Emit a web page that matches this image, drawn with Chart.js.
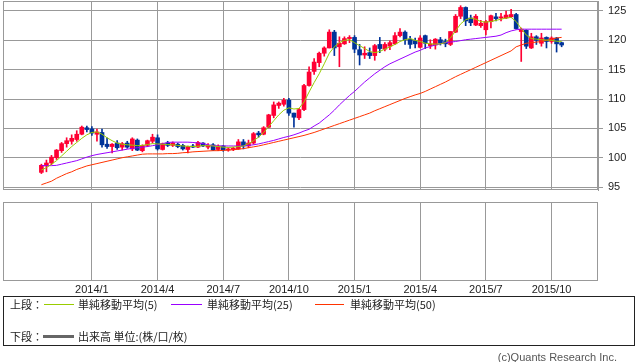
<!DOCTYPE html>
<html lang="ja">
<head>
<meta charset="utf-8">
<title>週足チャート</title>
<script src="https://cdn.jsdelivr.net/npm/chart.js@4.4.0/dist/chart.umd.min.js"></script>
<style>
    body { margin: 0; width: 638px; height: 362px; background: #fff; position: relative; overflow: hidden; }
    #upperChart { position: absolute; left: 0; top: 0; }
    #lowerChart { position: absolute; left: 0; top: 198px; }
    #legend {
        position: absolute; left: 3px; top: 296px; width: 630px; height: 48px;
        border: 1px solid #222; font-family: "Noto Sans CJK JP", sans-serif; font-size: 11px; color: #222;
    }
    #legend span { position: absolute; line-height: 14px; white-space: nowrap; }
    #legend .swatch { position: absolute; height: 1px; }
    #copyright {
        position: absolute; right: 21px; top: 350px; font-family: "Liberation Sans", Arial, sans-serif;
        font-size: 11px; color: #555; line-height: 14px;
    }
</style>
</head>
<body>
<canvas id="upperChart" width="638" height="192"></canvas>
<canvas id="lowerChart" width="638" height="104"></canvas>
<div id="legend">
    <span style="left:6px;top:0px;">上段：</span>
    <div class="swatch" style="left:40px;top:7px;width:30px;background:#99cc00;"></div>
    <span style="left:74px;top:0px;">単純移動平均(5)</span>
    <div class="swatch" style="left:167px;top:7px;width:31px;background:#9900ff;"></div>
    <span style="left:203px;top:0px;">単純移動平均(25)</span>
    <div class="swatch" style="left:311px;top:7px;width:29px;background:#ff3300;"></div>
    <span style="left:346px;top:0px;">単純移動平均(50)</span>
    <span style="left:6px;top:32px;">下段：</span>
    <div class="swatch" style="left:39px;top:38px;width:31px;height:3px;background:#666;"></div>
    <span style="left:74px;top:32px;">出来高 単位:(株/口/枚)</span>
</div>
<div id="copyright">(c)Quants Research Inc.</div>

<script>
// Weekly candles, first week = 2013/10/28
const opens = [97.5, 98.6, 99.1, 100.0, 101.2, 102.4, 102.8, 103.1, 104.0, 105.1,
    104.9, 104.0, 104.3, 102.3, 101.9, 102.5, 101.8, 102.5, 101.5, 103.0,
    101.2, 102.1, 102.8, 103.4, 101.4, 102.5, 102.1, 102.3, 102.1, 101.4,
    102.0, 101.8, 102.5, 101.8, 102.2, 101.4, 102.0, 101.3, 101.4, 101.5,
    102.7, 102.0, 102.5, 104.2, 104.0, 105.2, 107.2, 108.9, 109.1, 109.8,
    107.6, 106.8, 108.2, 112.3, 114.7, 116.2, 117.8, 118.7, 121.4, 118.9,
    119.4, 120.3, 120.5, 118.4, 117.5, 117.9, 117.4, 119.3, 118.5, 119.0,
    119.4, 120.8, 121.4, 120.2, 119.9, 118.8, 120.8, 119.1, 119.2, 120.1,
    119.8, 119.3, 121.4, 124.1, 125.6, 123.8, 122.6, 122.5, 121.8, 123.2,
    124.0, 123.8, 123.8, 124.0, 124.4, 121.5, 121.7, 118.7, 120.6, 119.5,
    120.5, 119.8, 120.4, 119.6];
const highs = [98.9, 99.6, 100.4, 101.4, 102.6, 103.4, 103.9, 104.6, 105.4, 105.4,
    105.3, 104.9, 104.9, 103.4, 102.4, 102.9, 102.6, 102.8, 103.4, 103.2,
    102.2, 103.0, 104.0, 103.9, 102.5, 102.8, 102.7, 102.5, 102.3, 102.0,
    102.3, 102.8, 102.6, 102.4, 102.4, 102.2, 102.1, 101.7, 101.8, 103.1,
    103.1, 103.0, 104.3, 104.5, 105.3, 107.4, 109.5, 109.5, 110.1, 110.1,
    107.6, 108.4, 112.5, 115.5, 116.9, 118.0, 118.9, 121.8, 121.7, 120.6,
    120.6, 120.8, 120.8, 119.3, 118.9, 118.7, 119.3, 120.5, 119.6, 119.9,
    121.3, 122.0, 121.6, 120.7, 120.4, 120.8, 120.9, 120.1, 120.3, 120.5,
    120.2, 121.5, 124.4, 125.9, 125.7, 124.3, 124.4, 123.4, 123.4, 124.3,
    124.6, 124.6, 125.0, 125.3, 124.6, 122.1, 121.8, 121.2, 120.8, 121.2,
    120.6, 120.6, 120.5, 119.7];
const lows = [97.3, 97.6, 98.8, 99.7, 100.9, 101.8, 102.3, 102.8, 103.9, 104.4,
    103.8, 102.8, 101.8, 101.6, 100.8, 101.4, 101.3, 101.6, 101.2, 101.2,
    101.0, 101.9, 102.5, 101.3, 101.3, 101.9, 101.9, 101.7, 101.3, 100.8,
    101.7, 101.7, 101.9, 101.5, 101.2, 101.2, 101.1, 101.1, 101.2, 101.4,
    101.5, 101.7, 102.3, 103.5, 103.9, 105.1, 106.8, 108.4, 108.8, 107.2,
    105.2, 106.5, 108.0, 112.2, 114.2, 115.5, 117.3, 118.7, 117.4, 115.5,
    119.3, 119.6, 117.9, 115.8, 116.9, 116.9, 116.6, 117.9, 118.2, 118.4,
    119.3, 120.6, 119.3, 118.6, 118.7, 118.7, 118.6, 118.6, 118.5, 119.2,
    118.9, 119.1, 121.3, 123.7, 122.5, 122.5, 122.5, 122.2, 120.9, 122.1,
    123.3, 123.3, 123.7, 123.9, 121.9, 116.4, 118.6, 118.6, 119.3, 119.0,
    118.7, 119.5, 118.0, 118.9];
const closes = [98.7, 99.1, 100.1, 101.3, 102.4, 102.9, 103.3, 104.0, 105.2, 104.8,
    104.2, 104.4, 102.2, 101.9, 102.3, 101.7, 102.4, 101.8, 103.2, 101.3,
    102.1, 102.9, 103.5, 101.5, 102.4, 102.1, 102.5, 101.9, 101.5, 101.9,
    101.8, 102.6, 102.0, 102.1, 101.3, 102.0, 101.3, 101.5, 101.6, 102.7,
    102.0, 102.5, 104.1, 103.9, 105.1, 107.3, 109.0, 109.3, 109.8, 107.6,
    106.9, 108.2, 112.3, 114.6, 116.3, 117.8, 118.7, 121.4, 118.7, 119.5,
    120.3, 120.5, 118.5, 117.5, 117.8, 117.4, 119.1, 118.6, 119.3, 119.6,
    120.8, 121.4, 120.1, 119.3, 119.4, 120.4, 119.5, 119.4, 120.2, 119.5,
    119.4, 121.5, 124.1, 125.6, 123.3, 123.0, 124.1, 122.9, 123.2, 124.2,
    123.7, 124.0, 124.3, 124.4, 122.0, 121.9, 119.0, 120.6, 120.0, 120.4,
    119.8, 120.4, 119.4, 119.2];

// Moving averages
const ma5 = [97.9, 98.3, 98.9, 99.5, 100.3, 101.1, 101.9, 102.6, 103.3, 103.9,
    104.3, 104.4, 104.0, 103.4, 102.9, 102.5, 102.3, 102.2, 102.15, 102.05,
    102.1, 102.25, 102.4, 102.35, 102.3, 102.25, 102.2, 102.1, 102.0, 101.95,
    101.9, 101.95, 102.05, 102.05, 102.0, 101.9, 101.8, 101.75, 101.8, 101.9,
    102.0, 102.4, 102.9, 103.5, 104.3, 105.3, 106.3, 107.3, 108.1, 108.5,
    108.3, 108.4, 109.5, 111.2, 112.8, 114.3, 116.0, 117.8, 118.9, 119.6,
    120.0, 120.1, 119.6, 119.1, 118.6, 118.1, 117.9, 118.1, 118.5, 118.9,
    119.3, 119.8, 120.1, 120.3, 120.0, 119.8, 119.5, 119.4, 119.35, 119.4,
    119.6, 120.4, 121.6, 122.8, 123.5, 123.8, 123.6, 123.2, 123.1, 123.2,
    123.4, 123.6, 123.8, 123.9, 123.2, 122.0, 120.9, 120.3, 120.2, 120.1,
    120.05, 120.0, 119.85, 119.8];
const ma25 = [98.65, 98.65, 98.65, 98.7, 98.9, 99.1, 99.3, 99.5, 99.8, 100.1,
    100.35, 100.55, 100.7, 100.85, 101.0, 101.15, 101.3, 101.45, 101.6, 101.7,
    101.8, 101.9, 102.05, 102.2, 102.4, 102.6, 102.65, 102.65, 102.65, 102.65,
    102.6, 102.5, 102.4, 102.2, 102.05, 102.0, 102.0, 102.0, 102.0, 102.0,
    102.0, 102.1, 102.2, 102.35, 102.55, 102.75, 102.95, 103.2, 103.45, 103.65,
    103.9, 104.2, 104.55, 104.85, 105.4, 105.9, 106.6, 107.3, 108.1, 109.0,
    109.8, 110.6, 111.3, 112.1, 112.9, 113.6, 114.3, 114.9, 115.5, 116.0,
    116.4, 116.8, 117.2, 117.6, 118.0, 118.3, 118.7, 118.95, 119.2, 119.4,
    119.6, 119.7, 119.8, 119.95, 120.1, 120.2, 120.3, 120.4, 120.5, 120.6,
    120.7, 120.9, 121.3, 121.6, 121.8, 121.9, 121.9, 121.9, 121.9, 121.9,
    121.9, 121.9, 121.9, 121.9];
const ma50 = [95.4, 95.7, 96.0, 96.5, 96.9, 97.3, 97.6, 98.0, 98.3, 98.6,
    98.8, 99.0, 99.2, 99.4, 99.6, 99.8, 100.0, 100.15, 100.3, 100.45,
    100.6, 100.65, 100.65, 100.65, 100.65, 100.7, 100.7, 100.75, 100.85, 100.9,
    101.0, 101.05, 101.1, 101.15, 101.2, 101.2, 101.25, 101.3, 101.35, 101.45,
    101.55, 101.7, 101.85, 102.0, 102.2, 102.4, 102.6, 102.8, 103.0, 103.2,
    103.4, 103.6, 103.8, 104.05, 104.3, 104.6, 104.9, 105.2, 105.5, 105.8,
    106.1, 106.4, 106.7, 107.0, 107.3, 107.6, 108.0, 108.35, 108.7, 109.05,
    109.4, 109.75, 110.1, 110.4, 110.7, 110.95, 111.3, 111.7, 112.1, 112.5,
    112.9, 113.35, 113.8, 114.2, 114.6, 115.0, 115.4, 115.8, 116.2, 116.6,
    117.0, 117.4, 117.8, 118.2, 118.9, 119.2, 119.5, 119.6, 119.7, 119.8,
    120.0, 120.2, 120.4, 120.5];

// Volume (FX: none)
const volumes = [];

// Axis ticks
const priceTicks = [95, 100, 105, 110, 115, 120, 125];
const tickWeeks = [10, 23, 36, 49, 62, 75, 88, 101];
const tickLabels = ['2014/1', '2014/4', '2014/7', '2014/10', '2015/1', '2015/4', '2015/7', '2015/10'];

const UP_COLOR = '#ff0033';
const DOWN_COLOR = '#003399';
const GRID_COLOR = '#999999';
const FONT = "'Liberation Sans', Arial, sans-serif";
const X_MIN = -7.6;
const X_MAX = 110.2;

function candleColor(ctx) {
    const i = ctx.dataIndex;
    return closes[i] >= opens[i] ? UP_COLOR : DOWN_COLOR;
}

function asPoints(values) {
    return values.map((v, i) => ({ x: i, y: v }));
}

// Draw a thin frame around the plot area
const panelFrame = {
    id: 'panelFrame',
    beforeDatasetsDraw: function(chart) {
        const ctx = chart.ctx;
        const a = chart.chartArea;
        ctx.save();
        ctx.strokeStyle = GRID_COLOR;
        ctx.lineWidth = 1;
        const l = Math.round(a.left) + 0.5, t = Math.round(a.top) + 0.5;
        const r = Math.round(a.right) - 0.5, b = Math.round(a.bottom) - 0.5;
        ctx.strokeRect(l, t, r - l, b - t);
        ctx.restore();
    }
};

function weekAxis(showLabels) {
    return {
        type: 'linear',
        min: X_MIN,
        max: X_MAX,
        offset: false,
        afterBuildTicks: function(scale) {
            scale.ticks = tickWeeks.map(v => ({ value: v }));
        },
        afterFit: function(scale) {
            scale.paddingLeft = 0;
            scale.paddingRight = 0;
        },
        grid: { color: GRID_COLOR, lineWidth: 1, drawTicks: false, offset: false },
        border: { display: false },
        ticks: {
            display: showLabels,
            autoSkip: false,
            maxRotation: 0,
            padding: 3,
            color: '#222',
            font: { size: 11, family: FONT },
            callback: function(value) {
                const k = tickWeeks.indexOf(value);
                return k >= 0 ? tickLabels[k] : '';
            }
        }
    };
}

function initCharts() {
    Chart.defaults.animation = false;

    const upperConfig = {
        type: 'bar',
        data: {
            datasets: [
                { type: 'line', label: '単純移動平均(5)', data: asPoints(ma5), borderColor: '#99cc00', borderWidth: 1, pointRadius: 0, tension: 0, order: 0 },
                { type: 'line', label: '単純移動平均(25)', data: asPoints(ma25), borderColor: '#9900ff', borderWidth: 1, pointRadius: 0, tension: 0, order: 0 },
                { type: 'line', label: '単純移動平均(50)', data: asPoints(ma50), borderColor: '#ff3300', borderWidth: 1, pointRadius: 0, tension: 0, order: 0 },
                {
                    label: 'body',
                    data: opens.map((o, i) => ({ x: i, y: [o, closes[i]] })),
                    backgroundColor: candleColor,
                    borderWidth: 0,
                    barThickness: 4,
                    minBarLength: 1,
                    grouped: false,
                    order: 1
                },
                {
                    label: 'wick',
                    data: lows.map((l, i) => ({ x: i, y: [l, highs[i]] })),
                    backgroundColor: candleColor,
                    borderWidth: 0,
                    barThickness: 1,
                    grouped: false,
                    order: 2
                }
            ]
        },
        options: {
            responsive: false,
            events: [],
            layout: { padding: { left: 3, top: 1, right: 0, bottom: 2 } },
            plugins: { legend: { display: false }, tooltip: { enabled: false } },
            scales: {
                x: weekAxis(false),
                y: {
                    position: 'right',
                    min: 94.5,
                    max: 126.7,
                    afterBuildTicks: function(scale) {
                        scale.ticks = priceTicks.map(v => ({ value: v }));
                    },
                    afterFit: function(scale) {
                        scale.width = 40;
                        scale.paddingTop = 0;
                        scale.paddingBottom = 0;
                    },
                    grid: { color: GRID_COLOR, lineWidth: 1, tickLength: 5 },
                    border: { color: GRID_COLOR },
                    ticks: { padding: 5, color: '#222', font: { size: 11, family: FONT } }
                }
            }
        },
        plugins: [panelFrame]
    };

    const lowerConfig = {
        type: 'bar',
        data: {
            datasets: [{ label: '出来高', data: asPoints(volumes), backgroundColor: '#666', barThickness: 3 }]
        },
        options: {
            responsive: false,
            events: [],
            layout: { padding: { left: 3, top: 4, right: 0, bottom: 2 } },
            plugins: { legend: { display: false }, tooltip: { enabled: false } },
            scales: {
                x: weekAxis(true),
                y: {
                    position: 'right',
                    min: 0,
                    max: 1,
                    afterFit: function(scale) {
                        scale.width = 40;
                        scale.paddingTop = 0;
                        scale.paddingBottom = 0;
                    },
                    grid: { display: false },
                    border: { display: false },
                    ticks: { display: false }
                }
            }
        },
        plugins: [panelFrame]
    };

    try {
        window.upperChart = new Chart(document.getElementById('upperChart'), upperConfig);
        window.lowerChart = new Chart(document.getElementById('lowerChart'), lowerConfig);
    } catch (error) {
        console.error('Error creating chart:', error);
    }
}

document.addEventListener('DOMContentLoaded', initCharts);
</script>
</body>
</html>
